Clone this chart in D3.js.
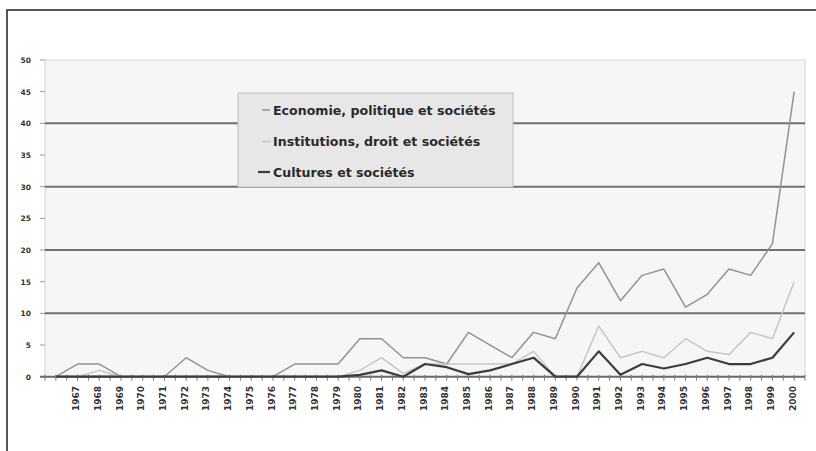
<!DOCTYPE html>
<html><head><meta charset="utf-8">
<script src="https://cdn.jsdelivr.net/npm/d3@7/dist/d3.min.js"></script>
<style>body{margin:0;background:#fff}svg{display:block}</style>
</head><body>
<svg id="chart" width="816" height="451"></svg>
<script>
const years = ["1966","1967","1968","1969","1970","1971","1972","1973","1974","1975","1976","1977","1978","1979","1980","1981","1982","1983","1984","1985","1986","1987","1988","1989","1990","1991","1992","1993","1994","1995","1996","1997","1998","1999","2000"];
const yearLabels = ["","1967","1968","1969","1970","1971","1972","1973","1974","1975","1976","1977","1978","1979","1980","1981","1982","1983","1984","1985","1986","1987","1988","1989","1990","1991","1992","1993","1994","1995","1996","1997","1998","1999","2000"];
const economie = [0,2,2,0,0,0,3,1,0,0,0,2,2,2,6,6,3,3,2,7,5,3,7,6,14,18,12,16,17,11,13,17,16,21,45];
const institutions = [0,0,1,0,0,0,0,0,0,0,0,0,0,0,1,3,0.5,2,2,2,2,2,4,0,0,8,3,4,3,6,4,3.5,7,6,15];
const cultures = [0,0,0,0,0,0,0,0,0,0,0,0,0,0,0.3,1,0,2,1.5,0.4,1,2,3,0,0,4,0.3,2,1.3,2,3,2,2,3,7];
const seriesNames = ["Economie, politique et sociétés","Institutions, droit et sociétés","Cultures et sociétés"];
const yTicks = [0,5,10,15,20,25,30,35,40,45,50];
const gridValues = [10,20,30,40];

(function(){
const svg = d3.select("#chart");
const pL = 45, pR = 805, pT = 60, pB = 376.7;
const x = d3.scaleBand().domain(years).range([pL, pR]);
const bw = x.bandwidth();
const cx = d => x(d) + bw / 2;
const y = d3.scaleLinear().domain([0, 50]).range([pB, pT]);

svg.append("path").attr("d", "M7,451V10H816").attr("fill", "none").attr("stroke", "#222").attr("stroke-width", 1.5);

svg.append("rect").attr("x", pL).attr("y", pT).attr("width", pR - pL).attr("height", pB - pT)
  .attr("fill", "#f6f6f6").attr("stroke", "#d4d4d4").attr("stroke-width", 1);

svg.selectAll(".grid").data(gridValues).enter().append("line")
  .attr("x1", pL).attr("x2", pR).attr("y1", d => y(d)).attr("y2", d => y(d))
  .attr("stroke", "#707070").attr("stroke-width", 2);

svg.selectAll(".yt").data(yTicks).enter().append("line")
  .attr("x1", 40).attr("x2", pL).attr("y1", d => y(d)).attr("y2", d => y(d))
  .attr("stroke", "#9a9a9a").attr("stroke-width", 1);
svg.selectAll(".yl").data(yTicks).enter().append("text")
  .attr("x", 31).attr("y", d => y(d) + 3)
  .attr("text-anchor", "end").attr("font-family", "DejaVu Sans, sans-serif")
  .attr("font-weight", "bold").attr("font-size", 7.5).attr("fill", "#333")
  .text(d => d);

svg.append("line").attr("x1", 40).attr("x2", pR).attr("y1", y(0)).attr("y2", y(0))
  .attr("stroke", "#6a6a6a").attr("stroke-width", 2);

const tickPos = [];
years.forEach(d => { tickPos.push(x(d)); tickPos.push(cx(d)); });
tickPos.push(pR);
svg.selectAll(".xt").data(tickPos).enter().append("line")
  .attr("x1", d => d).attr("x2", d => d).attr("y1", y(0) - 2).attr("y2", y(0) + 4)
  .attr("stroke", "#7a7a7a").attr("stroke-width", 1);

svg.selectAll(".xl").data(years).enter().append("text")
  .attr("transform", d => `translate(${cx(d) + 1.5},386) rotate(-90)`)
  .attr("text-anchor", "end").attr("font-family", "DejaVu Sans, sans-serif")
  .attr("font-weight", "bold").attr("font-size", 9).attr("fill", "#333")
  .text((d, i) => yearLabels[i]);

const line = d3.line().x((d, i) => cx(years[i])).y(d => y(d));
const styles = [
  {data: economie, color: "#939393", w: 1.5},
  {data: institutions, color: "#c6c6c6", w: 1.5},
  {data: cultures, color: "#3c3c3c", w: 2.2}
];
styles.forEach(s => {
  svg.append("path").attr("d", line(s.data)).attr("fill", "none")
    .attr("stroke", s.color).attr("stroke-width", s.w).attr("stroke-linejoin", "round");
});

const lg = svg.append("g");
lg.append("rect").attr("x", 238).attr("y", 93).attr("width", 275).attr("height", 94)
  .attr("fill", "#e7e7e7").attr("stroke", "#c0c0c0").attr("stroke-width", 1);
const rowsY = [110, 141.5, 172];
seriesNames.forEach((n, i) => {
  lg.append("line").attr("x1", i === 2 ? 258 : 262).attr("x2", 270).attr("y1", rowsY[i]).attr("y2", rowsY[i])
    .attr("stroke", styles[i].color).attr("stroke-width", styles[i].w);
  lg.append("text").attr("x", 273).attr("y", rowsY[i] + 4.5)
    .attr("font-family", "DejaVu Sans, sans-serif").attr("font-weight", "bold")
    .attr("font-size", 12.6).attr("fill", "#2a2a2a").text(n);
});
})();
</script>
</body></html>
